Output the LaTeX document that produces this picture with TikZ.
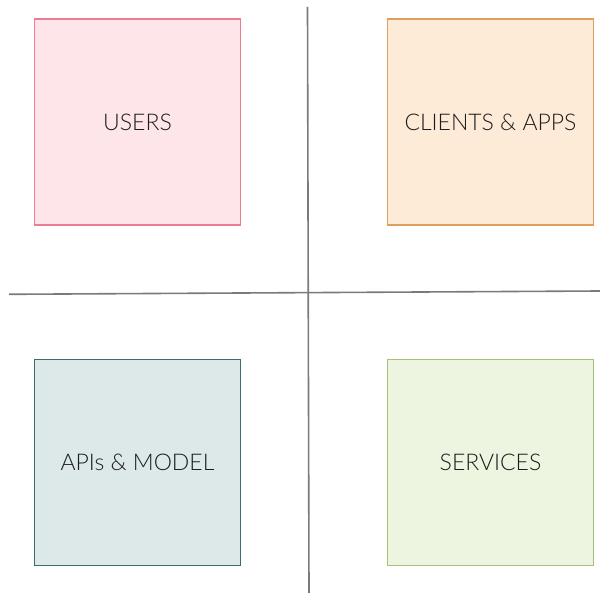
\documentclass[tikz,border=0pt]{standalone}
\usepackage{fontspec}
\setmainfont{Lato}[UprightFont={* Light}]
\definecolor{usersfill}{HTML}{FDE5E9}
\definecolor{usersdraw}{HTML}{EC7C90}
\definecolor{clientsfill}{HTML}{FEEBD7}
\definecolor{clientsdraw}{HTML}{DE9E5E}
\definecolor{apisfill}{HTML}{DDE8E9}
\definecolor{apisdraw}{HTML}{3E6A70}
\definecolor{servfill}{HTML}{EDF5E0}
\definecolor{servdraw}{HTML}{A2C474}
\definecolor{axisgray}{HTML}{7A7A7A}
\definecolor{txt}{HTML}{1C1C1C}
\tikzset{
  quad/.style={draw, line width=1.3pt, minimum width=206pt, minimum height=206pt,
    inner sep=0pt, font=\fontsize{23}{26}\selectfont, text=txt},
  axisline/.style={draw=axisgray, line width=1.6pt}
}
\begin{document}
\begin{tikzpicture}[x=1pt,y=-1pt]
\useasboundingbox (0,0) rectangle (600,593);
\node[quad, fill=usersfill, draw=usersdraw] (users) at (137.5,122) {USERS};
\node[quad, fill=clientsfill, draw=clientsdraw] (clients) at (490.5,122) {CLIENTS \& APPS};
\node[quad, fill=apisfill, draw=apisdraw] (apis) at (137.5,462.5) {APIs \& MODEL};
\node[quad, fill=servfill, draw=servdraw] (services) at (490.5,462.5) {SERVICES};
\coordinate (vtop) at (307.5,7);
\coordinate (vbot) at (309,593);
\coordinate (hleft) at (9,294.3);
\coordinate (hright) at (600,291);
\draw[axisline] (vtop) -- (vbot);
\draw[axisline] (hleft) -- (hright);
\end{tikzpicture}
\end{document}
